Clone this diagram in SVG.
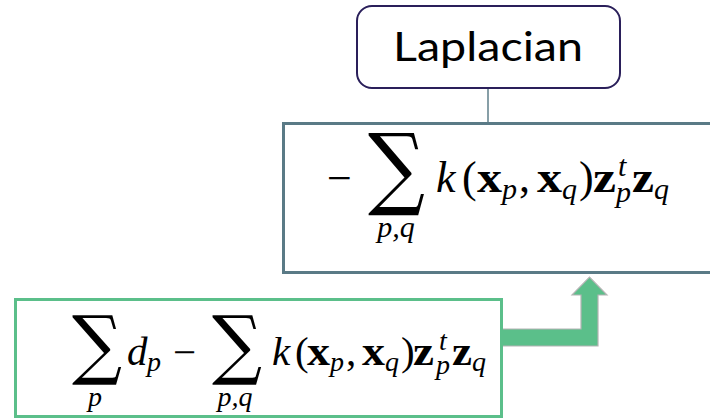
<svg xmlns="http://www.w3.org/2000/svg" width="710" height="419" viewBox="0 0 710 419">
<style>
.m{font-family:"Liberation Serif","DejaVu Serif",serif;fill:#000}
.i{font-style:italic}
.b{font-weight:bold}
.sum{font-family:"DejaVu Serif",serif;fill:#000}
.t{font-size:44px}
.ts{font-size:30px}
.bt{font-size:41px}
.bs{font-size:28px}
</style>
<rect width="710" height="419" fill="#fff"/>
<g id="connectors">
<line x1="488" y1="88" x2="488" y2="123" stroke="#5f7f8a" stroke-width="1.5"/>
<path d="M502,329 H581 V295 H572 L589.5,277 L607,295 H598 V346 H502 Z" fill="#5bbf8a" stroke="#b4b4b4" stroke-width="1.2"/>
</g>
<g id="laplacian">
<rect x="357" y="6" width="263" height="82" rx="15" fill="#fff" stroke="#2a1f5a" stroke-width="2"/>
<text x="393" y="61" textLength="190" lengthAdjust="spacingAndGlyphs" font-family="Lato,sans-serif" font-size="40" fill="#000">Laplacian</text>
</g>
<g id="top-formula">
<rect x="283.5" y="123.5" width="440" height="149" fill="#fff" stroke="#5a7a86" stroke-width="3"/>
<text class="m t" x="327" y="193">−</text>
<text class="sum" x="368" y="198" font-size="90" textLength="57" lengthAdjust="spacingAndGlyphs">∑</text>
<text class="m i ts" x="396" y="237" text-anchor="middle">p,q</text>
<text class="m i t" x="436" y="192">k</text>
<text class="m t" x="462" y="192">(</text>
<text class="m b t" x="477" y="192" textLength="25" lengthAdjust="spacingAndGlyphs">x</text>
<text class="m i ts" x="502" y="199">p</text>
<text class="m t" x="519" y="192">,</text>
<text class="m b t" x="537" y="192" textLength="25" lengthAdjust="spacingAndGlyphs">x</text>
<text class="m i ts" x="562" y="199">q</text>
<text class="m t" x="579" y="192">)</text>
<text class="m b t" x="593" y="192" textLength="23" lengthAdjust="spacingAndGlyphs">z</text>
<text class="m i ts" x="618" y="176">t</text>
<text class="m i ts" x="616" y="202">p</text>
<text class="m b t" x="632" y="192" textLength="22" lengthAdjust="spacingAndGlyphs">z</text>
<text class="m i ts" x="654" y="199">q</text>
</g>
<g id="bottom-formula">
<rect x="15.5" y="299.5" width="486" height="117" fill="#fff" stroke="#5bbf8a" stroke-width="3"/>
<text class="sum" x="72" y="370" font-size="76" textLength="50" lengthAdjust="spacingAndGlyphs">∑</text>
<text class="m i bs" x="95" y="406" text-anchor="middle">p</text>
<text class="m i bt" x="127" y="365">d</text>
<text class="m i bs" x="147" y="371">p</text>
<text class="m bt" x="173" y="366">−</text>
<text class="sum" x="212" y="370" font-size="76" textLength="50" lengthAdjust="spacingAndGlyphs">∑</text>
<text class="m i bs" x="235" y="406" text-anchor="middle">p,q</text>
<text class="m i bt" x="272" y="365">k</text>
<text class="m bt" x="295" y="365">(</text>
<text class="m b bt" x="307" y="365" textLength="23" lengthAdjust="spacingAndGlyphs">x</text>
<text class="m i bs" x="330" y="371">p</text>
<text class="m bt" x="346" y="365">,</text>
<text class="m b bt" x="362" y="365" textLength="23" lengthAdjust="spacingAndGlyphs">x</text>
<text class="m i bs" x="385" y="371">q</text>
<text class="m bt" x="401" y="365">)</text>
<text class="m b bt" x="413" y="365" textLength="21" lengthAdjust="spacingAndGlyphs">z</text>
<text class="m i bs" x="439" y="350">t</text>
<text class="m i bs" x="436" y="374">p</text>
<text class="m b bt" x="452" y="365" textLength="20" lengthAdjust="spacingAndGlyphs">z</text>
<text class="m i bs" x="472" y="371">q</text>
</g>
</svg>
